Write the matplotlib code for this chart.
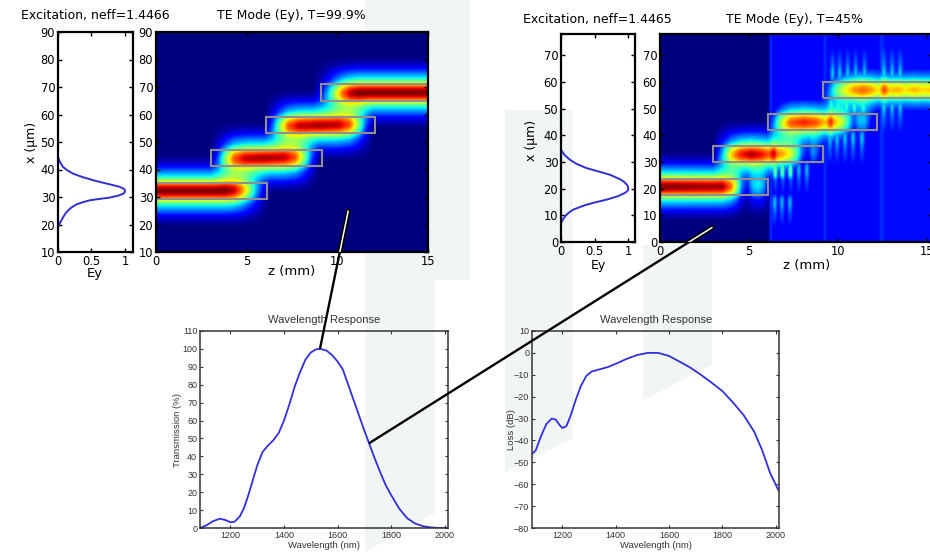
import numpy as np
import matplotlib
matplotlib.use("Agg")
import matplotlib.pyplot as plt
from matplotlib.patches import Rectangle, Polygon, ConnectionPatch

# ---- excitation mode profiles (x in um, normalised |Ey|) ----
ey1_x = [19.1, 20.3, 21.5, 23.0, 24.5, 26.0, 27.3, 28.1, 28.8, 29.3, 29.8, 30.5, 31.2, 31.7,
         32.2, 32.7, 33.1, 33.7, 34.3, 35.2, 36.1, 37.3, 38.5, 39.7, 40.9, 42.7, 44.5]
ey1_v = [0.0, 0.025, 0.05, 0.085, 0.125, 0.19, 0.275, 0.37, 0.475, 0.62, 0.775, 0.9, 0.975, 0.995,
         1.0, 0.995, 0.975, 0.92, 0.825, 0.67, 0.525, 0.36, 0.225, 0.14, 0.075, 0.03, 0.0]
ey2_x = [7.1, 8.3, 9.6, 10.9, 12.1, 13.0, 14.0, 15.0, 15.9, 17.2, 18.4, 19.2, 19.9, 20.7,
         21.5, 22.5, 23.5, 24.4, 25.2, 26.5, 27.7, 29.3, 30.9, 32.7, 34.6]
ey2_v = [0.0, 0.025, 0.06, 0.11, 0.18, 0.27, 0.38, 0.53, 0.68, 0.85, 0.95, 0.99, 1.0, 0.995,
         0.98, 0.94, 0.88, 0.8, 0.73, 0.55, 0.38, 0.23, 0.13, 0.05, 0.0]

# lateral shape of the field in the maps (distance from guide centre in um)
mode_dx = [0.0, 0.8, 1.6, 2.5, 3.3, 4.2, 5.0, 6.0, 7.2, 8.4, 9.5, 11.5, 13.0]
mode_a = [1.0, 0.97, 0.9, 0.78, 0.64, 0.5, 0.4, 0.32, 0.24, 0.16, 0.09, 0.03, 0.0]

# ---- waveguide segments (z in mm, x in um) ----
wg1_center = [32.2, 44.2, 56.1, 68.0]
wg1_start = [-1.0, 3.05, 6.05, 9.1]
wg1_end = [6.1, 9.15, 12.1, 16.0]
wg2_center = [20.7, 32.9, 44.9, 57.1]
wg2_start = [-1.0, 3.0, 6.05, 9.14]
wg2_end = [6.08, 9.14, 12.2, 16.5]
wg_width = 6.0

# field amplitude along each guide, adiabatic device (T=99.9%)
a1_z = [[0.0, 3.8, 4.3, 4.7, 5.1, 5.5, 5.9, 6.3],
        [3.0, 3.4, 3.8, 4.3, 4.9, 6.0, 7.1, 7.7, 8.2, 8.6, 9.0],
        [6.0, 6.4, 6.8, 7.3, 7.9, 9.0, 10.1, 10.7, 11.2, 11.6, 12.0],
        [8.7, 9.1, 9.5, 9.9, 10.3, 10.7, 11.2, 15.3]]
a1_v = [[1.0, 1.0, 0.93, 0.78, 0.55, 0.3, 0.1, 0.0],
        [0.0, 0.18, 0.48, 0.8, 0.93, 0.97, 0.93, 0.8, 0.48, 0.18, 0.0],
        [0.0, 0.18, 0.48, 0.8, 0.93, 0.97, 0.93, 0.8, 0.48, 0.18, 0.0],
        [0.0, 0.1, 0.3, 0.55, 0.78, 0.93, 1.0, 1.0]]

# field amplitude along each guide, lossy device (T=45%)
a2_z = [[0.0, 3.5, 4.0, 4.3, 4.6, 4.9, 5.2, 5.5, 5.8, 6.1, 6.4],
        [3.0, 3.5, 4.0, 4.5, 5.1, 5.7, 6.1, 6.4, 6.6, 6.9, 7.3, 7.7, 8.0, 8.3, 8.6, 8.9, 9.2],
        [6.0, 6.4, 6.8, 7.3, 8.1, 8.8, 9.3, 9.6, 9.8, 10.2, 10.6, 10.9, 11.2, 11.5, 11.9, 12.2],
        [9.0, 9.4, 9.9, 10.4, 10.9, 11.4, 11.9, 12.3, 12.6, 12.9, 13.4, 13.8, 14.3, 14.8, 15.3]]
a2_v = [[1.0, 0.97, 0.78, 0.55, 0.22, 0.12, 0.3, 0.35, 0.28, 0.08, 0.0],
        [0.0, 0.3, 0.68, 0.88, 0.96, 0.9, 0.82, 0.95, 0.78, 0.72, 0.62, 0.42, 0.2, 0.1, 0.25, 0.15, 0.0],
        [0.0, 0.25, 0.55, 0.8, 0.88, 0.82, 0.7, 0.88, 0.72, 0.6, 0.38, 0.18, 0.3, 0.3, 0.1, 0.0],
        [0.0, 0.18, 0.45, 0.63, 0.75, 0.8, 0.74, 0.66, 0.85, 0.7, 0.72, 0.67, 0.72, 0.68, 0.7]]
# radiated background level and side-lobe stripes of the lossy device
rad_z = [0.0, 6.1, 6.2, 6.35, 6.6, 9.1, 9.25, 9.45, 12.3, 12.45, 12.65, 15.3]
rad_v = [0.0, 0.0, 0.18, 0.12, 0.11, 0.11, 0.17, 0.125, 0.125, 0.18, 0.135, 0.135]
lobe_z = [[6.45, 6.85, 7.3],
          [6.5, 6.9, 7.35, 7.8, 8.25],
          [9.55, 9.95, 10.4, 10.85, 11.35],
          [9.7, 10.1, 10.55, 11.0, 11.5, 12.6, 13.05, 13.5]]
lobe_dx = [2.5, 4.5, 6.5, 10.0, 16.0]
lobe_w = [0.0, 0.9, 1.0, 0.5, 0.0]

# ---- wavelength responses ----
wl_t = [1086, 1110, 1135, 1160, 1180, 1200, 1215, 1235, 1250, 1265, 1280, 1300, 1320, 1340, 1360,
        1380, 1400, 1420, 1440, 1460, 1480, 1500, 1520, 1537, 1560, 1580, 1600, 1620, 1640, 1660,
        1680, 1700, 1720, 1740, 1760, 1780, 1800, 1830, 1860, 1890, 1920, 1950, 1980, 2013]
trans = [0, 1.5, 3.8, 5.2, 4.5, 3.2, 3.5, 6.5, 11, 17.5, 25, 35, 42.5, 46, 49,
         53, 60, 69, 79, 87, 94, 98, 99.8, 100, 99, 96.5, 93, 88.5, 80, 71.5,
         63, 54.5, 46.5, 38.5, 31, 24, 18.5, 11, 5.5, 2.5, 1, 0.3, 0, 0]
wl_l = [1088, 1100, 1120, 1140, 1160, 1175, 1190, 1200, 1215, 1230, 1250, 1270, 1290, 1310, 1340,
        1370, 1400, 1440, 1480, 1520, 1560, 1600, 1640, 1680, 1720, 1760, 1800, 1840, 1880, 1920,
        1950, 1980, 2012]
loss = [-46, -44.5, -38, -32.5, -30, -30.5, -33, -34.3, -33.5, -29, -21.5, -15, -10.5, -8.5, -7.5,
        -6.5, -5, -2.8, -1, 0, 0, -1.4, -4, -6.7, -10, -13.6, -17.4, -22.6, -28.4, -36,
        -44.5, -55, -63]

W, H = 930, 552
fig = plt.figure(figsize=(W / 100, H / 100), dpi=100)


def rect(x0, y0, x1, y1):
    return [x0 / W, 1 - y1 / H, (x1 - x0) / W, (y1 - y0) / H]


def ftext(x, y, s, **kw):
    fig.text(x / W, 1 - y / H, s, ha="center", va="center", **kw)


# faint background watermark
wm = [[(365, 0), (435, 0), (435, 513), (365, 552)],
      [(505, 110), (573, 110), (573, 438), (505, 473)],
      [(643, 245), (712, 245), (712, 365), (643, 400)],
      [(428, 0), (470, 0), (470, 280), (428, 280)]]
for pts in wm:
    fig.add_artist(Polygon([(x / W, 1 - y / H) for x, y in pts], closed=True,
                           transform=fig.transFigure, fc="#f2f5f6", ec="none", zorder=-1))

top_font = dict(family="DejaVu Sans")
bot_font = dict(family="Liberation Sans")


def style_top(ax):
    ax.set_facecolor("none")
    ax.tick_params(direction="in", length=3, width=1, labelsize=8.3, pad=2,
                   top=True, right=True)
    for lab in ax.get_xticklabels() + ax.get_yticklabels():
        lab.set_family("DejaVu Sans")
    for s in ax.spines.values():
        s.set_linewidth(1.6)


def style_bottom(ax):
    ax.set_facecolor("none")
    ax.tick_params(direction="in", length=2.5, width=0.8, labelsize=6.5, pad=2,
                   top=True, right=True, colors="#333333")
    for lab in ax.get_xticklabels() + ax.get_yticklabels():
        lab.set_family("Liberation Sans")
    for s in ax.spines.values():
        s.set_linewidth(1.1)
        s.set_color("#333333")


def guided_field(z, x, centers, az, av):
    f = np.zeros((len(x), len(z)))
    for c, ez, ea in zip(centers, az, av):
        env = np.interp(z, ez, ea, left=0, right=0)
        prof = np.interp(np.abs(x - c), mode_dx, mode_a, right=0)
        f += prof[:, None] * env[None, :]
    return f


# ---- top left: excitation + adiabatic coupler ----
ax_e1 = fig.add_axes(rect(58, 32, 133, 252))
ax_e1.plot(ey1_v, ey1_x, color="#2f2fd2", lw=1.4)
ax_e1.set_xlim(0, 1.12)
ax_e1.set_ylim(10, 90)
ax_e1.set_xticks([0, 0.5, 1])
ax_e1.set_xticklabels(["0", "0.5", "1"])
ax_e1.set_yticks(range(10, 91, 10))
style_top(ax_e1)

ax_m1 = fig.add_axes(rect(156, 32, 428, 252))
z1 = np.linspace(0, 15, 600)
x1 = np.linspace(10, 90, 480)
f1 = np.clip(guided_field(z1, x1, wg1_center, a1_z, a1_v), 0, 1)
ax_m1.imshow(f1, extent=[0, 15, 10, 90], origin="lower", aspect="auto", cmap="jet",
             vmin=0, vmax=1, interpolation="bilinear")
for c, s, e in zip(wg1_center, wg1_start, wg1_end):
    ax_m1.add_patch(Rectangle((s, c - wg_width / 2), e - s, wg_width, fill=False,
                              ec="#8f8f8f", lw=1.5))
ax_m1.set_xlim(0, 15)
ax_m1.set_ylim(10, 90)
ax_m1.set_xticks([0, 5, 10, 15])
ax_m1.set_yticks(range(10, 91, 10))
style_top(ax_m1)

ftext(95, 16, "Excitation, neff=1.4466", fontsize=9, **top_font)
ftext(291, 16, "TE Mode (Ey), T=99.9%", fontsize=9, **top_font)
ftext(31, 142, "x (\u03bcm)", rotation=90, fontsize=9, **top_font)
ftext(95, 273, "Ey", fontsize=9.5, **top_font)
ftext(292, 272, "z (mm)", fontsize=9.5, **top_font)

# ---- top right: excitation + lossy coupler ----
ax_e2 = fig.add_axes(rect(561, 34, 635, 242))
ax_e2.plot(ey2_v, ey2_x, color="#2f2fd2", lw=1.4)
ax_e2.set_xlim(0, 1.1)
ax_e2.set_ylim(0, 78)
ax_e2.set_xticks([0, 0.5, 1])
ax_e2.set_xticklabels(["0", "0.5", "1"])
ax_e2.set_yticks(range(0, 71, 10))
style_top(ax_e2)

ax_m2 = fig.add_axes(rect(660, 34, 932, 242))
z2 = np.linspace(0, 15.3, 700)
x2 = np.linspace(0, 78, 480)
f2 = guided_field(z2, x2, wg2_center, a2_z, a2_v)
bg = np.tile(np.interp(z2, rad_z, rad_v), (len(x2), 1))
for c, zs in zip(wg2_center, lobe_z):
    band = np.interp(np.abs(x2 - c), lobe_dx, lobe_w, left=0, right=0)
    for zc in zs:
        bg += 0.2 * band[:, None] * np.exp(-((z2 - zc) / 0.13) ** 2)[None, :]
f2 = np.clip(np.maximum(f2, bg), 0, 1)
ax_m2.imshow(f2, extent=[0, 15.3, 0, 78], origin="lower", aspect="auto", cmap="jet",
             vmin=0, vmax=1, interpolation="bilinear")
for c, s, e in zip(wg2_center, wg2_start, wg2_end):
    ax_m2.add_patch(Rectangle((s, c - wg_width / 2), e - s, wg_width, fill=False,
                              ec="#8f8f8f", lw=1.5))
ax_m2.set_xlim(0, 15.28)
ax_m2.set_ylim(0, 78)
ax_m2.set_xticks([0, 5, 10, 15])
ax_m2.set_yticks(range(0, 71, 10))
style_top(ax_m2)

ftext(597, 20, "Excitation, neff=1.4465", fontsize=9, **top_font)
ftext(794, 20, "TE Mode (Ey), T=45%", fontsize=9, **top_font)
ftext(532, 140, "x (\u03bcm)", rotation=90, fontsize=9, **top_font)
ftext(598, 265, "Ey", fontsize=9, **top_font)
ftext(807, 265, "z (mm)", fontsize=9.5, **top_font)

# ---- bottom: wavelength responses ----
ax_t = fig.add_axes(rect(200, 331, 448, 528))
ax_t.plot(wl_t, trans, color="#3030e0", lw=1.3)
ax_t.set_xlim(1086, 2013)
ax_t.set_ylim(0, 110)
ax_t.set_xticks([1200, 1400, 1600, 1800, 2000])
ax_t.set_yticks(range(0, 111, 10))
style_bottom(ax_t)
ftext(324, 320, "Wavelength Response", fontsize=8, color="#333333", **bot_font)
ftext(324, 545, "Wavelength (nm)", fontsize=6.8, color="#333333", **bot_font)
ftext(177, 430, "Transmission (%)", rotation=90, fontsize=6.8, color="#333333", **bot_font)

ax_l = fig.add_axes(rect(532, 331, 779, 528))
ax_l.plot(wl_l, loss, color="#3030e0", lw=1.3)
ax_l.set_xlim(1086, 2013)
ax_l.set_ylim(-80, 10)
ax_l.set_xticks([1200, 1400, 1600, 1800, 2000])
ax_l.set_yticks(range(-80, 11, 10))
style_bottom(ax_l)
ftext(656, 320, "Wavelength Response", fontsize=8, color="#333333", **bot_font)
ftext(656, 545, "Wavelength (nm)", fontsize=6.8, color="#333333", **bot_font)
ftext(511, 430, "Loss (dB)", rotation=90, fontsize=6.8, color="#333333", **bot_font)

# ---- pointers from field maps to their spectra ----
links = [(ax_m1, (10.6, 24.9), ax_t, (1535, 100.5)),
         (ax_m2, (2.92, 5.4), ax_t, (1720, 47.5))]
for axa, pa, axb, pb in links:
    fig.add_artist(ConnectionPatch(xyA=pa, coordsA=axa.transData, xyB=pb,
                                   coordsB=axb.transData, color="black", lw=1.7, zorder=5))
    for col, lw in (("black", 3.6), ("white", 1.1)):
        cp = ConnectionPatch(xyA=pa, coordsA=axa.transData, xyB=pb, coordsB=axb.transData,
                             color=col, lw=lw, zorder=6)
        fig.add_artist(cp)
        cp.set_clip_on(True)
        cp.set_clip_box(axa.bbox)

fig.savefig("out.png", dpi=100)
